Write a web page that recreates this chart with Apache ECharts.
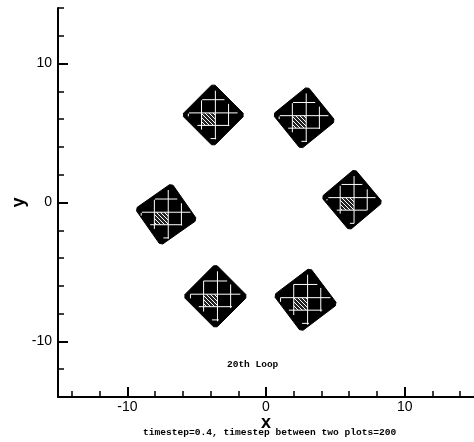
<!DOCTYPE html>
<html>
<head>
<meta charset="utf-8">
<script src="https://cdn.jsdelivr.net/npm/echarts@6/dist/echarts.min.js"></script>
<style>
html,body{margin:0;padding:0;background:#fff;}
#chart{width:474px;height:442px;}
</style>
</head>
<body>
<div id="chart"></div>
<script>
// ---- data ----
const blobX   = [-3.8, 2.75, -7.2, 6.2, -3.65, 2.85];
const blobY   = [6.3, 6.1, -0.85, 0.2, -6.75, -7.0];
const blobR   = [2.15, 2.15, 2.15, 2.1, 2.2, 2.2];
const blobRot = [0, -6, -10, -5, 0, -8];
const gridOffsetsX = [-1.8, -0.85, 0.15, 1.1];
const gridOffsetsY = [-1.7, -0.75, 0.15, 1.1];
const majorTicks  = [-10, 0, 10];
const minorTicksX = [-14, -12, -10, -8, -6, -4, -2, 0, 2, 4, 6, 8, 10, 12, 14];
const minorTicksY = [-14, -12, -10, -8, -6, -4, -2, 0, 2, 4, 6, 8, 10, 12, 14];
const loopText = '20th Loop';
const footText = 'timestep=0.4, timestep between two plots=200';

const blobData = blobX.map((x, i) => [x, blobY[i], blobR[i], blobRot[i]]);

// hatch pattern for the centre cell
const pc = document.createElement('canvas');
pc.width = 4; pc.height = 4;
const g = pc.getContext('2d');
g.fillStyle = '#222'; g.fillRect(0, 0, 4, 4);
g.strokeStyle = '#fff'; g.lineWidth = 1;
g.beginPath(); g.moveTo(0, 0); g.lineTo(4, 4); g.stroke();

function renderItem(params, api) {
  const cx = api.value(0), cy = api.value(1), r = api.value(2);
  const rot = api.value(3) * Math.PI / 180;
  const pts = [];
  for (let k = 0; k < 4; k++) {
    const a = rot + k * Math.PI / 2;
    [-0.06, 0.06].forEach(d => {
      pts.push(api.coord([cx + r * Math.cos(a + d), cy + r * Math.sin(a + d)]));
    });
  }
  const children = [{
    type: 'polygon', shape: { points: pts },
    style: { fill: '#000', stroke: '#000', lineWidth: 1, lineJoin: 'round' }
  }];
  const m = 0.25;
  const p1 = api.coord([cx + gridOffsetsX[1], cy + gridOffsetsY[2]]);
  const p2 = api.coord([cx + gridOffsetsX[2], cy + gridOffsetsY[1]]);
  children.push({
    type: 'rect',
    shape: { x: p1[0], y: p1[1], width: p2[0] - p1[0], height: p2[1] - p1[1] },
    style: { fill: { image: pc, repeat: 'repeat' } }
  });
  gridOffsetsX.forEach(c => {
    const h = r - Math.abs(c) - m;
    if (h <= 0) return;
    const a = api.coord([cx + c, cy - h]), b = api.coord([cx + c, cy + h]);
    children.push({ type: 'line', shape: { x1: a[0], y1: a[1], x2: b[0], y2: b[1] },
      style: { stroke: '#fff', lineWidth: 1 } });
  });
  gridOffsetsY.forEach(c => {
    const h = r - Math.abs(c) - m;
    if (h <= 0) return;
    const a = api.coord([cx - h, cy + c]), b = api.coord([cx + h, cy + c]);
    children.push({ type: 'line', shape: { x1: a[0], y1: a[1], x2: b[0], y2: b[1] },
      style: { stroke: '#fff', lineWidth: 1 } });
  });
  return { type: 'group', children: children };
}

const labelFont = { color: '#000', fontFamily: 'Liberation Sans', fontSize: 14 };

const chart = echarts.init(document.getElementById('chart'), null, { renderer: 'canvas' });
chart.setOption({
  animation: false,
  backgroundColor: '#fff',
  grid: { left: 58, top: 8, width: 416, height: 389, containLabel: false, outerBoundsMode: 'none' },
  xAxis: [{
    type: 'value', min: -15, max: 15, position: 'bottom',
    name: 'x', nameLocation: 'middle', nameGap: 17, nameMoveOverlap: false,
    nameTextStyle: { color: '#000', fontFamily: 'Liberation Sans', fontSize: 18, fontWeight: 'bold' },
    axisLine: { show: true, onZero: false, lineStyle: { color: '#000', width: 2 } },
    axisTick: { show: true, inside: true, length: 10, customValues: majorTicks, lineStyle: { color: '#000', width: 2 } },
    axisLabel: Object.assign({ customValues: majorTicks, margin: 3, formatter: v => String(v) }, labelFont),
    splitLine: { show: false }
  }, {
    type: 'value', min: -15, max: 15, position: 'bottom',
    axisLine: { show: false, onZero: false },
    axisTick: { show: true, inside: true, length: 6, customValues: minorTicksX, lineStyle: { color: '#000', width: 1.5 } },
    axisLabel: { show: false },
    splitLine: { show: false }
  }],
  yAxis: [{
    type: 'value', min: -14, max: 14, position: 'left',
    name: 'y', nameLocation: 'middle', nameGap: 30, nameRotate: 90, nameMoveOverlap: false,
    nameTextStyle: { color: '#000', fontFamily: 'Liberation Sans', fontSize: 18, fontWeight: 'bold' },
    axisLine: { show: true, onZero: false, lineStyle: { color: '#000', width: 2 } },
    axisTick: { show: true, inside: true, length: 10, customValues: majorTicks, lineStyle: { color: '#000', width: 2 } },
    axisLabel: Object.assign({ customValues: majorTicks, margin: 6, formatter: v => String(v) }, labelFont),
    splitLine: { show: false }
  }, {
    type: 'value', min: -14, max: 14, position: 'left',
    axisLine: { show: false, onZero: false },
    axisTick: { show: true, inside: true, length: 6, customValues: minorTicksY, lineStyle: { color: '#000', width: 1.5 } },
    axisLabel: { show: false },
    splitLine: { show: false }
  }],
  graphic: [{
    type: 'text', left: 227, top: 360,
    style: { text: loopText, fill: '#000', font: 'bold 9.5px "Liberation Mono"' }
  }, {
    type: 'text', left: 143, top: 428,
    style: { text: footText, fill: '#000', font: 'bold 9.6px "Liberation Mono"' }
  }],
  series: [{
    type: 'custom', xAxisIndex: 0, yAxisIndex: 0,
    renderItem: renderItem,
    data: blobData,
    clip: true
  }]
});
</script>
</body>
</html>
